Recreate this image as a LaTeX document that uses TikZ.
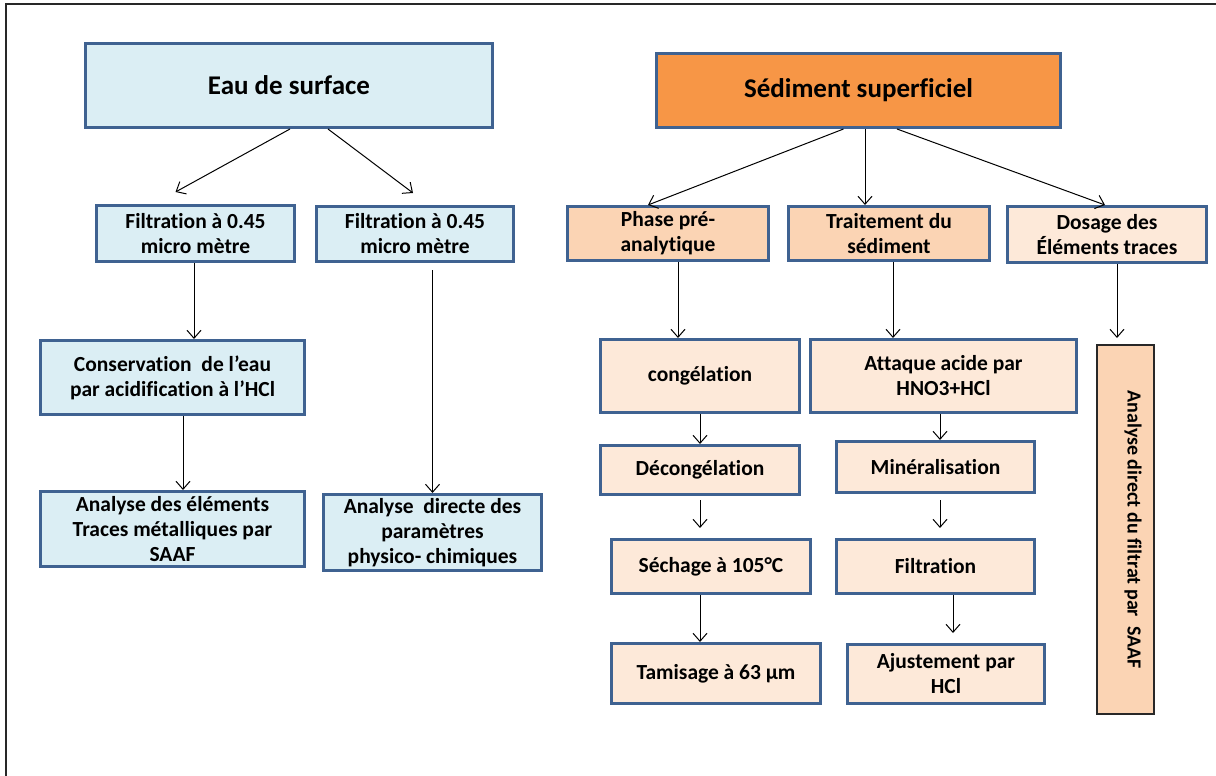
\documentclass[tikz,border=0pt]{standalone}
\usepackage{fontspec}
\setmainfont{Carlito}[Ligatures=NoCommon]
\usetikzlibrary{arrows.meta, positioning, calc}
\definecolor{bordblue}{RGB}{63,98,145}
\definecolor{eaufill}{RGB}{219,238,244}
\definecolor{sedorange}{RGB}{247,150,70}
\definecolor{sedpeach}{RGB}{251,212,180}
\definecolor{sedlight}{RGB}{253,233,217}
\definecolor{framegray}{RGB}{40,40,40}
\tikzset{
  box/.style    = {draw=bordblue, line width=3pt, inner sep=0pt, align=center,
                   font=\fontsize{21.5}{25}\selectfont\bfseries},
  ebox/.style   = {box, fill=eaufill},
  obox/.style   = {box, fill=sedorange, font=\fontsize{27}{30}\selectfont\bfseries},
  pbox/.style   = {box, fill=sedpeach},
  lbox/.style   = {box, fill=sedlight},
  sz/.style 2 args = {minimum width=#1pt-3pt, minimum height=#2pt-3pt},
  arrow/.style  = {-{Straight Barb[length=8pt, width=14pt]}, line width=1pt, black},
}

\begin{document}
\begin{tikzpicture}[x=1pt, y=-1pt]
  \useasboundingbox (0,0) rectangle (1216,776);
  \draw[framegray, line width=1.5pt] (1216,4) -- (6,4) -- (6,776);
  % eau de surface
  \node[ebox, sz={410}{87}, font=\fontsize{27}{30}\selectfont\bfseries] (eau) at (289,85.5) {Eau de surface};
  \node[ebox, sz={201}{59}] (filtA) at (195.5,233.5) {Filtration à 0.45\\micro mètre};
  \node[ebox, sz={200}{58}] (filtB) at (415,234) {Filtration à 0.45\\micro mètre};
  \node[ebox, sz={267}{77}] (conserv) at (172.5,377.5) {Conservation\ \ de l’eau\\par acidification à l’HCl};
  \node[ebox, sz={267}{78}] (anaMet) at (172.5,529) {Analyse des éléments\\Traces métalliques par\\SAAF};
  \node[ebox, sz={221}{79}] (anaPhys) at (432.5,532.5) {Analyse\ \ directe des\\paramètres\\physico- chimiques};
  % sediment superficiel
  \node[obox, sz={407}{77}] (sed) at (858.5,90.5) {Sédiment superficiel};
  \node[pbox, sz={204}{57}] (phase) at (668,233.5) {Phase pré-\\analytique};
  \node[pbox, sz={204}{57}] (trait) at (889,233.5) {Traitement du\\sédiment};
  \node[lbox, sz={202}{59}] (dosage) at (1107,234.5) {Dosage des\\Éléments traces};
  \node[lbox, sz={202}{76}] (congel) at (700,376) {congélation};
  \node[lbox, sz={269}{76}] (attaque) at (943.5,376) {Attaque acide par\\HNO3+HCl};
  \node[lbox, sz={202}{52}] (decongel) at (700,470) {Décongélation};
  \node[lbox, sz={201}{54}] (mineral) at (935.5,467) {Minéralisation};
  \node[lbox, sz={202}{57}] (sechage) at (711,566.5) {Séchage à 105°C};
  \node[lbox, sz={201}{57}] (filtr) at (935.5,566.5) {Filtration};
  \node[lbox, sz={212}{63}] (tamis) at (716,673.5) {Tamisage à 63 µm};
  \node[lbox, sz={200}{62}] (ajust) at (946,674) {Ajustement par\\HCl};
  \node[pbox, draw=framegray, line width=2pt, minimum width=369pt, minimum height=57pt,
        font=\fontsize{20}{24}\selectfont\bfseries, text height=14pt, text depth=18pt,
        rotate=-90] (direct) at (1125.5,529.5) {Analyse direct du filtrat par\ \ SAAF};
  % fleches
  \draw[arrow] ([xshift=1pt]eau.south) -- ([xshift=-20pt, yshift=12pt]filtA.north);
  \draw[arrow] ([xshift=39pt]eau.south) -- ([xshift=-2pt, yshift=12pt]filtB.north);
  \draw[arrow] ([xshift=-1.5pt]filtA.south) -- ([xshift=-1.5pt]filtA.south |- conserv.north);
  \draw[arrow] ([yshift=-7pt]anaPhys.north |- filtB.south) -- (anaPhys.north);
  \draw[arrow] ([xshift=10.5pt]conserv.south) -- ([xshift=10.5pt]anaMet.north);
  \draw[arrow] ([xshift=-15pt]sed.south) -- ([xshift=-20pt]phase.north);
  \draw[arrow] ([xshift=6.5pt]sed.south) -- ([xshift=6.5pt]sed.south |- trait.north);
  \draw[arrow] ([xshift=38.5pt]sed.south) -- ([xshift=-2pt]dosage.north);
  \draw[arrow] ([xshift=10pt]phase.south) -- ([xshift=10pt]phase.south |- congel.north);
  \draw[arrow] ([xshift=4pt]trait.south) -- ([xshift=4pt]trait.south |- attaque.north);
  \draw[arrow] ([xshift=10pt]dosage.south) -- ([xshift=10pt, yshift=6pt]dosage.south |- direct.west);
  \draw[arrow] (congel.south) -- (decongel.north);
  \draw[arrow] ([xshift=-3.5pt]attaque.south) -- ([xshift=-3.5pt]attaque.south |- mineral.north);
  \draw[arrow] ([yshift=-4pt]decongel.south) -- ([yshift=10pt]decongel.south |- sechage.north);
  \draw[arrow] ([xshift=4.5pt, yshift=-6pt]mineral.south) -- ([xshift=4.5pt, yshift=10pt]mineral.south |- filtr.north);
  \draw[arrow] ([xshift=-11pt]sechage.south) -- ([xshift=-11pt]sechage.south |- tamis.north);
  \draw[arrow] ([xshift=17.5pt]filtr.south) -- ([xshift=17.5pt, yshift=10pt]filtr.south |- ajust.north);
\end{tikzpicture}
\end{document}
